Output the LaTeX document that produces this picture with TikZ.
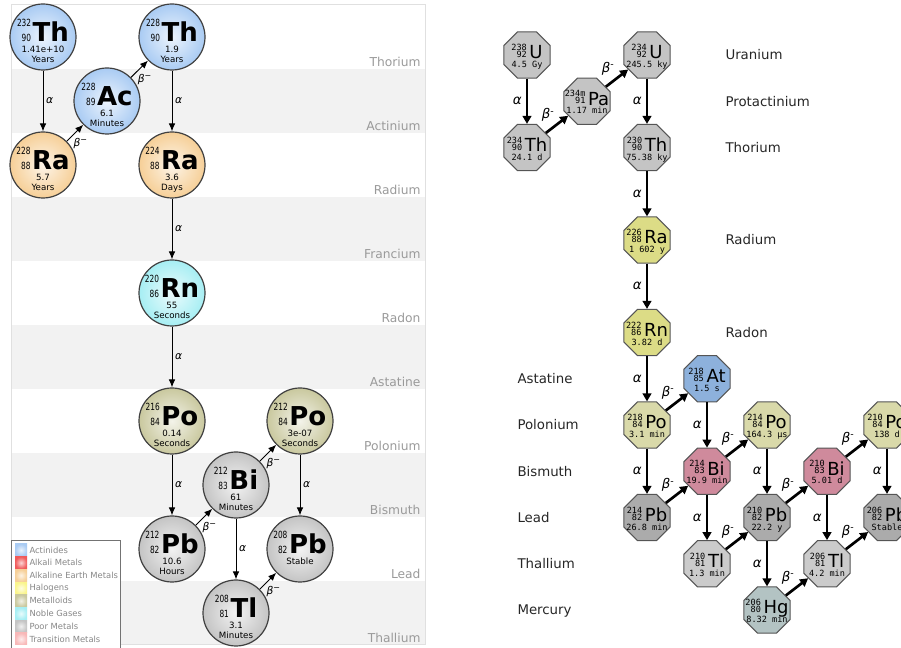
\documentclass[tikz,border=0pt]{standalone}
\usepackage{fontspec}
\setmainfont{DejaVu Sans}
\setmonofont{DejaVu Sans Mono}
\newfontfamily\narrowfont[FakeStretch=0.75]{DejaVu Sans}
\usetikzlibrary{arrows.meta,shapes.geometric}

\definecolor{actin}{HTML}{A9CBF3}
\definecolor{alkearth}{HTML}{F6CF97}
\definecolor{noble}{HTML}{A6EEF3}
\definecolor{metalloid}{HTML}{C9C89E}
\definecolor{poor}{HTML}{C4C4C4}
\definecolor{alkali}{HTML}{F05A5A}
\definecolor{halogen}{HTML}{FAF58C}
\definecolor{transit}{HTML}{F8B8B8}
\definecolor{ballline}{HTML}{404040}
\definecolor{bandgray}{HTML}{F2F2F2}
\definecolor{rowgray}{HTML}{9A9A9A}
\definecolor{legtext}{HTML}{888888}
\definecolor{octgray}{HTML}{C4C4C4}
\definecolor{octyel}{HTML}{DCDC86}
\definecolor{octpo}{HTML}{D9D9A9}
\definecolor{octat}{HTML}{8DB1DC}
\definecolor{octbi}{HTML}{CF8A9C}
\definecolor{octpb}{HTML}{ABABAB}
\definecolor{octtl}{HTML}{CBCBCB}
\definecolor{octhg}{HTML}{B3C3C3}
\definecolor{octline}{HTML}{555555}

\newcommand{\putat}[2]{\makebox[0pt]{\raisebox{#1}{#2}}}
\newcommand{\ballnum}{\narrowfont\fontsize{7.4}{7.5}\selectfont}
\newcommand{\ballsym}{\bfseries\fontsize{19.5}{20}\selectfont}
\newcommand{\ballsmall}{\fontsize{6.5}{7}\selectfont}
\newcommand{\balltext}[5]{\smash{\putat{-3.4pt}{{\ballnum\begin{tabular}[b]{@{}r@{}}#1\\[3.2pt]#2\end{tabular}}\hspace{1.2pt}{\ballsym #3}}\putat{-11.6pt}{\ballsmall #4}\putat{-19.1pt}{\ballsmall #5}}}
\newcommand{\octnum}{\ttfamily\fontsize{6.4}{5.4}\selectfont}
\newcommand{\octsym}{\fontsize{13.5}{13.5}\selectfont}
\newcommand{\octtext}[4]{\smash{\putat{-3pt}{\raisebox{1pt}{\octnum\begin{tabular}[b]{@{}r@{}}#1\\[-1pt]#2\end{tabular}}\hspace{2pt}{\octsym #3}}\putat{-9.4pt}{\octnum #4}}}

\tikzset{every picture/.style={line width=0.75pt}}
\tikzset{
  ball/.style={circle, draw=ballline, line width=0.9pt, minimum size=49.5pt, inner sep=0pt, shade, inner color=#1!22!white, outer color=#1},
  octa/.style={regular polygon, regular polygon sides=8, minimum size=37.5pt, inner sep=0pt, draw=octline, line width=0.75pt, fill=#1},
  thinarrow/.style={-{Latex[length=6pt,width=5pt]}, line width=0.75pt},
  thickarrow/.style={-{Triangle[length=6pt,width=6.5pt]}, line width=2pt},
  alab/.style={font=\fontsize{8}{8}\selectfont\itshape, inner sep=2pt},
  blab/.style={font=\fontsize{8}{8}\selectfont\itshape, inner sep=1pt, anchor=north west},
  ralab/.style={font=\fontsize{10}{10}\selectfont\itshape, inner sep=3pt, left},
  rblab/.style={font=\fontsize{10}{10}\selectfont\itshape, inner sep=1pt, above left},
  rowlab/.style={anchor=base east, inner sep=0pt, text=rowgray, font=\fontsize{9.2}{10}\selectfont},
  elemlab/.style={anchor=base west, inner sep=0pt, text=black!85, font=\fontsize{10}{11}\selectfont},
  legsq/.style={rectangle, minimum size=9pt, inner sep=0pt, shade, inner color=#1!25!white, outer color=#1},
  legtxt/.style={anchor=west, inner sep=0pt, text=legtext, font=\fontsize{6.3}{7}\selectfont}
}

\begin{document}
\begin{tikzpicture}[x=0.75pt,y=0.75pt,yscale=-1,xscale=1]
\useasboundingbox (0,0) rectangle (901,648);
\clip (0,0) rectangle (901,648);

%Bands
\fill[bandgray] (11,69) rectangle (425,133);
\fill[bandgray] (11,197) rectangle (425,261);
\fill[bandgray] (11,325) rectangle (425,389);
\fill[bandgray] (11,453) rectangle (425,517);
\fill[bandgray] (11,581) rectangle (425,645);
\draw[black!12] (11,5) rectangle (425,645);

% Row labels
\node[rowlab] (lthorium) at (421,67) {Thorium};
\node[rowlab] (lactinium) at (421,131) {Actinium};
\node[rowlab] (lradium) at (421,195) {Radium};
\node[rowlab] (lfrancium) at (421,259) {Francium};
\node[rowlab] (lradon) at (421,323) {Radon};
\node[rowlab] (lastatine) at (421,387) {Astatine};
\node[rowlab] (lpolonium) at (421,451) {Polonium};
\node[rowlab] (lbismuth) at (421,515) {Bismuth};
\node[rowlab] (llead) at (421,579) {Lead};
\node[rowlab] (lthallium) at (421,643) {Thallium};

%Legend
\draw[fill=white, draw=black!55] (11.5,540.5) rectangle (120,660);
\node[legsq=actin] (k1) at (21,550) {};
\node[legtxt] (k1t) at (29,550) {Actinides};
\node[legsq=alkali] (k2) at (21,562.7) {};
\node[legtxt] (k2t) at (29,562.7) {Alkali Metals};
\node[legsq=alkearth] (k3) at (21,575.4) {};
\node[legtxt] (k3t) at (29,575.4) {Alkaline Earth Metals};
\node[legsq=halogen] (k4) at (21,588.1) {};
\node[legtxt] (k4t) at (29,588.1) {Halogens};
\node[legsq=metalloid] (k5) at (21,600.8) {};
\node[legtxt] (k5t) at (29,600.8) {Metalloids};
\node[legsq=noble] (k6) at (21,613.5) {};
\node[legtxt] (k6t) at (29,613.5) {Noble Gases};
\node[legsq=poor] (k7) at (21,626.2) {};
\node[legtxt] (k7t) at (29,626.2) {Poor Metals};
\node[legsq=transit] (k8) at (21,638.9) {};
\node[legtxt] (k8t) at (29,638.9) {Transition Metals};

%Circles
\node[ball=actin] (th232) at (43,37) {\balltext{232}{90}{Th}{1.41e+10}{Years}};
\node[ball=actin] (ac228) at (107,101) {\balltext{228}{89}{Ac}{6.1}{Minutes}};
\node[ball=actin] (th228) at (172,37) {\balltext{228}{90}{Th}{1.9}{Years}};
\node[ball=alkearth] (ra228) at (43,165) {\balltext{228}{88}{Ra}{5.7}{Years}};
\node[ball=alkearth] (ra224) at (172,165) {\balltext{224}{88}{Ra}{3.6}{Days}};
\node[ball=noble] (rn220) at (172,293) {\balltext{220}{86}{Rn}{55}{Seconds}};
\node[ball=metalloid] (po216) at (172,421) {\balltext{216}{84}{Po}{0.14}{Seconds}};
\node[ball=metalloid] (po212) at (300,421) {\balltext{212}{84}{Po}{3e-07}{Seconds}};
\node[ball=poor] (bi212) at (236,485) {\balltext{212}{83}{Bi}{61}{Minutes}};
\node[ball=poor] (pb212) at (172,549) {\balltext{212}{82}{Pb}{10.6}{Hours}};
\node[ball=poor] (pb208) at (300,549) {\balltext{208}{82}{Pb}{Stable}{}};
\node[ball=poor] (tl208) at (236,613) {\balltext{208}{81}{Tl}{3.1}{Minutes}};

%Decays
\draw[thinarrow] (th232) -- node[alab, right] (d1) {α} (ra228);
\draw[thinarrow] (ra228) -- node[blab, pos=0.3] (d2) {β\textsuperscript{−}} (ac228);
\draw[thinarrow] (ac228) -- node[blab, pos=0.3] (d3) {β\textsuperscript{−}} (th228);
\draw[thinarrow] (th228) -- node[alab, right] (d4) {α} (ra224);
\draw[thinarrow] (ra224) -- node[alab, right] (d5) {α} (rn220);
\draw[thinarrow] (rn220) -- node[alab, right] (d6) {α} (po216);
\draw[thinarrow] (po216) -- node[alab, right] (d7) {α} (pb212);
\draw[thinarrow] (pb212) -- node[blab, pos=0.3] (d8) {β\textsuperscript{−}} (bi212);
\draw[thinarrow] (bi212) -- node[blab, pos=0.3] (d9) {β\textsuperscript{−}} (po212);
\draw[thinarrow] (bi212) -- node[alab, right] (d10) {α} (tl208);
\draw[thinarrow] (po212) -- node[alab, right] (d11) {α} (pb208);
\draw[thinarrow] (tl208) -- node[blab, pos=0.3] (d12) {β\textsuperscript{−}} (pb208);

% Element names
\node[elemlab] (uranium) at (725,60) {Uranium};
\node[elemlab] (protactinium) at (725,106.25) {Protactinium};
\node[elemlab] (thorium) at (725,152.5) {Thorium};
\node[elemlab] (radium) at (725,245) {Radium};
\node[elemlab] (radon) at (725,337.5) {Radon};
\node[elemlab] (astatine) at (517,383.75) {Astatine};
\node[elemlab] (polonium) at (517,430) {Polonium};
\node[elemlab] (bismuth) at (517,476.25) {Bismuth};
\node[elemlab] (lead) at (517,522.5) {Lead};
\node[elemlab] (thallium) at (517,568.75) {Thallium};
\node[elemlab] (mercury) at (517,615) {Mercury};

%Octagons
\node[octa=octgray] (u238) at (527,55) {\octtext{238}{92}{U}{4.5 Gy}};
\node[octa=octgray] (th234) at (527,147.5) {\octtext{234}{90}{Th}{24.1 d}};
\node[octa=octgray] (pa234) at (587,101.25) {\octtext{234m}{91}{Pa}{1.17 min}};
\node[octa=octgray] (u234) at (647,55) {\octtext{234}{92}{U}{245.5 ky}};
\node[octa=octgray] (th230) at (647,147.5) {\octtext{230}{90}{Th}{75.38 ky}};
\node[octa=octyel] (ra226) at (647,240) {\octtext{226}{88}{Ra}{1 602 y}};
\node[octa=octyel] (rn222) at (647,332.5) {\octtext{222}{86}{Rn}{3.82 d}};
\node[octa=octpo] (po218) at (647,425) {\octtext{218}{84}{Po}{3.1 min}};
\node[octa=octat] (at218) at (707,378.75) {\octtext{218}{85}{At}{1.5 s}};
\node[octa=octpb] (pb214) at (647,517.5) {\octtext{214}{82}{Pb}{26.8 min}};
\node[octa=octbi] (bi214) at (707,471.25) {\octtext{214}{83}{Bi}{19.9 min}};
\node[octa=octpo] (po214) at (767,425) {\octtext{214}{84}{Po}{164.3 μs}};
\node[octa=octtl] (tl210) at (707,563.75) {\octtext{210}{81}{Tl}{1.3 min}};
\node[octa=octpb] (pb210) at (767,517.5) {\octtext{210}{82}{Pb}{22.2 y}};
\node[octa=octhg] (hg206) at (767,610) {\octtext{206}{80}{Hg}{8.32 min}};
\node[octa=octbi] (bi210) at (827,471.25) {\octtext{210}{83}{Bi}{5.01 d}};
\node[octa=octtl] (tl206) at (827,563.75) {\octtext{206}{81}{Tl}{4.2 min}};
\node[octa=octpo] (po210) at (887,425) {\octtext{210}{84}{Po}{138 d}};
\node[octa=octpb] (pb206) at (887,517.5) {\octtext{206}{82}{Pb}{Stable}};

%Decays
\draw[thickarrow] (u238) -- node[ralab] (r1) {α} (th234);
\draw[thickarrow] (th234) -- node[rblab] (r2) {β\textsuperscript{-}} (pa234);
\draw[thickarrow] (pa234) -- node[rblab] (r3) {β\textsuperscript{-}} (u234);
\draw[thickarrow] (u234) -- node[ralab] (r4) {α} (th230);
\draw[thickarrow] (th230) -- node[ralab] (r5) {α} (ra226);
\draw[thickarrow] (ra226) -- node[ralab] (r6) {α} (rn222);
\draw[thickarrow] (rn222) -- node[ralab] (r7) {α} (po218);
\draw[thickarrow] (po218) -- node[rblab] (r8) {β\textsuperscript{-}} (at218);
\draw[thickarrow] (po218) -- node[ralab] (r9) {α} (pb214);
\draw[thickarrow] (at218) -- node[ralab] (r10) {α} (bi214);
\draw[thickarrow] (pb214) -- node[rblab] (r11) {β\textsuperscript{-}} (bi214);
\draw[thickarrow] (bi214) -- node[rblab] (r12) {β\textsuperscript{-}} (po214);
\draw[thickarrow] (bi214) -- node[ralab] (r13) {α} (tl210);
\draw[thickarrow] (po214) -- node[ralab] (r14) {α} (pb210);
\draw[thickarrow] (tl210) -- node[rblab] (r15) {β\textsuperscript{-}} (pb210);
\draw[thickarrow] (pb210) -- node[rblab] (r16) {β\textsuperscript{-}} (bi210);
\draw[thickarrow] (pb210) -- node[ralab] (r17) {α} (hg206);
\draw[thickarrow] (hg206) -- node[rblab] (r18) {β\textsuperscript{-}} (tl206);
\draw[thickarrow] (bi210) -- node[rblab] (r19) {β\textsuperscript{-}} (po210);
\draw[thickarrow] (bi210) -- node[ralab] (r20) {α} (tl206);
\draw[thickarrow] (po210) -- node[ralab] (r21) {α} (pb206);
\draw[thickarrow] (tl206) -- node[rblab] (r22) {β\textsuperscript{-}} (pb206);

\end{tikzpicture}
\end{document}
